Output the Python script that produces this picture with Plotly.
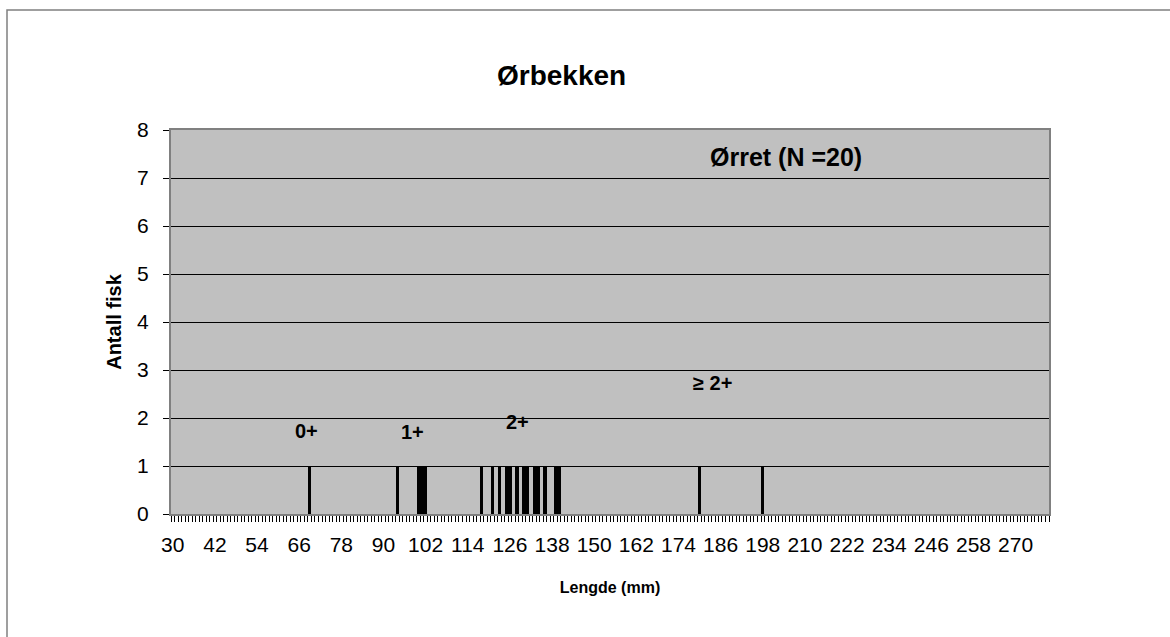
import plotly.graph_objects as go

# Lengths (mm) of the measured trout and number of fish per length class
length_mm = [69, 94, 100, 101, 102, 118, 121, 123, 125, 126, 128,
             130, 131, 133, 134, 136, 139, 140, 180, 198]
count = [1] * len(length_mm)

# Category axis runs 30..279 mm, labelled every 12 mm
x_first, x_last = 30, 279
tick_labels = list(range(30, 271, 12))

# Age-class labels placed over the length distribution
age_labels = ["0+", "1+", "2+", "\u2265 2+"]
age_x = [68, 98.3, 128.2, 183.6]
age_y = [1.73, 1.71, 1.92, 2.73]

FONT = "Liberation Sans, Arial, sans-serif"

fig = go.Figure()
fig.add_trace(go.Bar(
    x=length_mm, y=count, width=0.95,
    marker=dict(color="black", line=dict(width=0)),
    showlegend=False,
))

fig.update_layout(
    width=1170, height=637,
    margin=dict(l=171, r=121, t=130, b=123),
    paper_bgcolor="white",
    plot_bgcolor="#C0C0C0",
    font=dict(family=FONT, color="black"),
    title=dict(text="<b>Ørbekken</b>", x=0.480, xanchor="center",
               y=1 - 75 / 637, yanchor="middle",
               font=dict(size=28, family=FONT, color="black")),
    bargap=0,
)

fig.update_xaxes(
    range=[x_first - 0.5, x_last + 0.5],
    tickmode="array", tickvals=tick_labels,
    ticktext=[str(v) for v in tick_labels],
    ticks="outside", ticklen=6, tickcolor="rgba(0,0,0,0)",
    ticklabelstandoff=5,
    tickfont=dict(size=21, family=FONT, color="black"),
    minor=dict(tickmode="linear", tick0=x_first - 0.5, dtick=1,
               ticks="outside", ticklen=6, tickcolor="black",
               tickwidth=1, showgrid=False),
    showgrid=False, zeroline=False,
    showline=True, linecolor="#808080", linewidth=2, mirror=True,
    title=dict(text="<b>Lengde (mm)</b>", standoff=27,
               font=dict(size=16, family=FONT, color="black")),
)

fig.update_yaxes(
    range=[0, 8], dtick=1, tick0=0,
    ticks="outside", ticklen=6, tickcolor="black",
    ticklabelstandoff=10,
    tickfont=dict(size=21, family=FONT, color="black"),
    showgrid=True, gridcolor="black", gridwidth=1,
    zeroline=False,
    showline=True, linecolor="#808080", linewidth=2, mirror=True,
    title=dict(text="<b>Antall fisk</b>", standoff=10,
               font=dict(size=20, family=FONT, color="black")),
)

for txt, ax, ay in zip(age_labels, age_x, age_y):
    fig.add_annotation(x=ax, y=ay, xref="x", yref="y", text=f"<b>{txt}</b>",
                       showarrow=False, xanchor="center", yanchor="middle",
                       font=dict(size=20, family=FONT, color="black"))

fig.add_annotation(x=204.7, y=7.44, xref="x", yref="y",
                   text="<b>Ørret (N =20)</b>", showarrow=False,
                   xanchor="center", yanchor="middle",
                   font=dict(size=25, family=FONT, color="black"))

# Chart-area frame
fig.add_shape(type="rect", xref="paper", yref="paper",
              x0=(7 - 171) / 878, x1=1.3, y0=-0.5, y1=(514 - 10) / 384,
              line=dict(color="#808080", width=1.5), fillcolor="rgba(0,0,0,0)",
              layer="below")

fig.write_html("out.html")
